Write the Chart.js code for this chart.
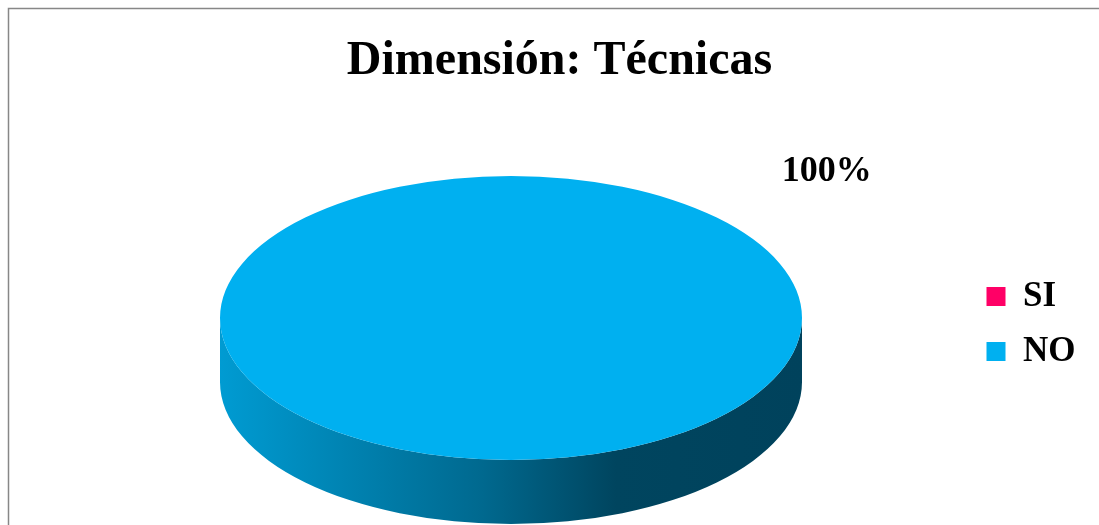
<!DOCTYPE html>
<html><head><meta charset="utf-8">
<script src="https://cdn.jsdelivr.net/npm/chart.js@4"></script>
<style>html,body{margin:0;padding:0;background:#fff}#wrap{width:1099px;height:525px;position:relative}</style>
</head><body><div id="wrap"><canvas id="c"></canvas></div>
<script>
const categories = ['SI', 'NO'];
const values = [0, 100];
const percentLabels = ['0%', '100%'];
const colors = ['#FF0066', '#00B0F0'];
const sideStops = [
  [[0, '#E0005A'], [0.45, '#A00040'], [0.65, '#70002C'], [1, '#680028']],
  [[0, '#009BD2'], [0.45, '#00698F'], [0.68, '#00455F'], [1, '#00425C']]
];
const titleText = 'Dimensión: Técnicas';

const TILT = 0.488;
const DEPTH = 64;
const SHIFT_X = 11;

function frontRanges(a, b) {
  const out = [];
  for (let k = -2; k <= 2; k++) {
    const lo = Math.max(a, 2 * Math.PI * k);
    const hi = Math.min(b, 2 * Math.PI * k + Math.PI);
    if (hi - lo > 1e-6) out.push([lo, hi]);
  }
  return out;
}

const pie3d = {
  id: 'pie3d',
  beforeDraw(chart) {
    const ctx = chart.ctx;
    ctx.save();
    ctx.strokeStyle = '#878787';
    ctx.lineWidth = 1.5;
    ctx.beginPath();
    ctx.moveTo(8.5, chart.height + 2);
    ctx.lineTo(8.5, 8.5);
    ctx.lineTo(chart.width + 2, 8.5);
    ctx.stroke();
    ctx.restore();
  },
  beforeDatasetsDraw(chart) {
    const ctx = chart.ctx;
    const meta = chart.getDatasetMeta(0);
    meta.data.forEach((arc, i) => {
      const cx = arc.x + SHIFT_X, cy = arc.y, rx = arc.outerRadius, ry = rx * TILT;
      const grad = ctx.createLinearGradient(cx - rx, 0, cx + rx, 0);
      sideStops[i].forEach(([o, c]) => grad.addColorStop(o, c));
      frontRanges(arc.startAngle, arc.endAngle).forEach(([lo, hi]) => {
        ctx.beginPath();
        ctx.ellipse(cx, cy, rx, ry, 0, lo, hi);
        ctx.ellipse(cx, cy + DEPTH, rx, ry, 0, hi, lo, true);
        ctx.closePath();
        ctx.fillStyle = grad;
        ctx.fill();
      });
    });
    const a0 = meta.data[0];
    ctx.save();
    ctx.translate(a0.x + SHIFT_X, a0.y);
    ctx.scale(1, TILT);
    ctx.translate(-a0.x, -a0.y);
  },
  afterDatasetsDraw(chart) {
    const ctx = chart.ctx;
    ctx.restore();
    const meta = chart.getDatasetMeta(0);
    meta.data.forEach((arc, i) => {
      if (!values[i]) return;
      const cx = arc.x + SHIFT_X, cy = arc.y, rx = arc.outerRadius, ry = rx * TILT;
      ctx.save();
      ctx.fillStyle = '#000';
      ctx.font = 'bold 36px "Liberation Serif"';
      ctx.textAlign = 'center';
      ctx.textBaseline = 'middle';
      ctx.fillText(percentLabels[i], cx + rx * 1.085, cy - ry * 1.03);
      ctx.restore();
    });
  }
};

new Chart(document.getElementById('c'), {
  type: 'pie',
  data: {
    labels: categories,
    datasets: [{ data: values, backgroundColor: colors, borderWidth: 0, radius: 291, clip: false, hoverOffset: 0 }]
  },
  options: {
    responsive: true,
    maintainAspectRatio: false,
    animation: false,
    events: [],
    layout: { padding: { left: 33.5, right: 13.5, top: 0, bottom: 0 } },
    plugins: {
      title: {
        display: true, text: titleText, color: '#000',
        font: { family: 'Liberation Serif', size: 48, weight: 'bold', lineHeight: 1.2 },
        padding: { top: 33, bottom: 20.4 }
      },
      legend: {
        position: 'right',
        fullSize: false,
        title: { display: true, text: ' ', padding: 0, font: { size: 10, lineHeight: 1.2 } },
        labels: {
          boxWidth: 19, boxHeight: 19, padding: 20, color: '#000',
          font: { family: 'Liberation Serif', size: 35, weight: 'bold' }
        }
      },
      tooltip: { enabled: false }
    }
  },
  plugins: [pie3d]
});
</script>
</body></html>
